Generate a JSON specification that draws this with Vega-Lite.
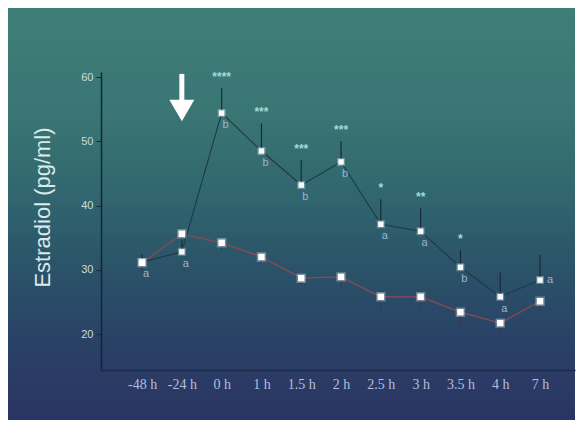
{
  "$schema": "https://vega.github.io/schema/vega-lite/v6.json",
  "width": 567,
  "height": 412,
  "autosize": "none",
  "padding": {"left": 8, "top": 8, "right": 7, "bottom": 3},
  "background": "#ffffff",
  "config": {"view": {"stroke": null}},
  "datasets": {
    "est": [
      {"time": "-48 h", "treat": 31.2, "treatUpper": 32.4, "control": 31.1, "controlLower": 29.6, "letter": "a", "stars": ""},
      {"time": "-24 h", "treat": 32.8, "treatUpper": 34.6, "control": 35.6, "controlLower": 34.0, "letter": "a", "stars": ""},
      {"time": "0 h", "treat": 54.4, "treatUpper": 58.3, "control": 34.2, "controlLower": 33.0, "letter": "b", "stars": "****"},
      {"time": "1 h", "treat": 48.5, "treatUpper": 52.8, "control": 32.0, "controlLower": 30.8, "letter": "b", "stars": "***"},
      {"time": "1.5 h", "treat": 43.2, "treatUpper": 47.1, "control": 28.7, "controlLower": 27.5, "letter": "b", "stars": "***"},
      {"time": "2 h", "treat": 46.8, "treatUpper": 50.0, "control": 28.9, "controlLower": 27.2, "letter": "b", "stars": "***"},
      {"time": "2.5 h", "treat": 37.1, "treatUpper": 41.0, "control": 25.8, "controlLower": 24.0, "letter": "a", "stars": "*"},
      {"time": "3 h", "treat": 36.0, "treatUpper": 39.6, "control": 25.8, "controlLower": 24.2, "letter": "a", "stars": "**"},
      {"time": "3.5 h", "treat": 30.4, "treatUpper": 33.1, "control": 23.4, "controlLower": 21.5, "letter": "b", "stars": "*"},
      {"time": "4 h", "treat": 25.8, "treatUpper": 29.6, "control": 21.7, "controlLower": 20.2, "letter": "a", "stars": ""},
      {"time": "7 h", "treat": 28.4, "treatUpper": 32.3, "control": 25.1, "controlLower": 23.6, "letter": "a", "stars": ""}
    ],
    "arrow": [
      {"time": "-24 h", "shaftTop": 60.5, "shaftBottom": 56.3, "head": 54.8}
    ]
  },
  "encoding": {
    "x": {
      "field": "time",
      "type": "nominal",
      "scale": {
        "type": "point",
        "domain": ["-48 h", "-24 h", "0 h", "1 h", "1.5 h", "2 h", "2.5 h", "3 h", "3.5 h", "4 h", "7 h"],
        "range": [93, 567],
        "padding": 0.955,
        "align": 0.54
      },
      "axis": {
        "title": null,
        "zindex": 1,
        "offset": -50,
        "labelAngle": 0,
        "ticks": false,
        "labelPadding": 7,
        "labelFont": "Liberation Serif",
        "labelFontSize": 14,
        "labelColor": "#b4bedc",
        "domainColor": "#1d2a4c",
        "domainWidth": 1.5
      }
    }
  },
  "layer": [
    {
      "data": {"values": [{}]},
      "mark": {
        "type": "rect",
        "fill": {
          "gradient": "linear",
          "x1": 0, "y1": 0, "x2": 0, "y2": 1,
          "stops": [
            {"offset": 0, "color": "#3f7e78"},
            {"offset": 0.25, "color": "#3a7674"},
            {"offset": 0.45, "color": "#31666f"},
            {"offset": 0.62, "color": "#2b5469"},
            {"offset": 0.8, "color": "#294266"},
            {"offset": 1, "color": "#2b3464"}
          ]
        }
      },
      "encoding": {"x": null}
    },
    {
      "data": {"name": "est"},
      "mark": {"type": "rule", "color": "#1b2a38", "strokeWidth": 1.2},
      "encoding": {
        "y": {
          "field": "treat",
          "type": "quantitative",
          "scale": {"domain": [14.4, 60.8], "range": [362, 64], "nice": false, "zero": false},
          "axis": {
            "title": "Estradiol (pg/ml)",
            "zindex": 1,
            "offset": -93,
            "values": [20, 30, 40, 50, 60],
            "grid": false,
            "tickSize": 5,
            "tickColor": "#1a2a3a",
            "domainColor": "#152535",
            "domainWidth": 1.5,
            "labelFontSize": 11,
            "labelFont": "Liberation Sans",
            "labelColor": "#c8dcdc",
            "labelPadding": 3,
            "titleFont": "Liberation Sans",
            "titleFontSize": 22,
            "titleFontWeight": "normal",
            "titleColor": "#dce9e9",
            "titleBaseline": "middle",
            "titleX": -59,
            "titleY": 199
          }
        },
        "y2": {"field": "treatUpper"}
      }
    },
    {
      "data": {"name": "est"},
      "mark": {"type": "rule", "color": "#4a2c3e", "strokeWidth": 1, "opacity": 0.7},
      "encoding": {
        "y": {"field": "control", "type": "quantitative"},
        "y2": {"field": "controlLower"}
      }
    },
    {
      "data": {"name": "est"},
      "mark": {"type": "line", "color": "#8a4a55", "strokeWidth": 1.3},
      "encoding": {"y": {"field": "control", "type": "quantitative"}}
    },
    {
      "data": {"name": "est"},
      "mark": {"type": "line", "color": "#1d3a48", "strokeWidth": 1.1},
      "encoding": {"y": {"field": "treat", "type": "quantitative"}}
    },
    {
      "data": {"name": "est"},
      "mark": {"type": "point", "shape": "square", "filled": true, "opacity": 1, "size": 30, "fill": "#f6faff", "stroke": "#ffffff", "strokeOpacity": 0.3, "strokeWidth": 2.5},
      "encoding": {"y": {"field": "treat", "type": "quantitative"}}
    },
    {
      "data": {"name": "est"},
      "mark": {"type": "point", "shape": "square", "filled": true, "opacity": 1, "size": 42, "fill": "#ffffff", "stroke": "#ffffff", "strokeOpacity": 0.3, "strokeWidth": 3},
      "encoding": {"y": {"field": "control", "type": "quantitative"}}
    },
    {
      "data": {"name": "est"},
      "transform": [{"filter": "datum.time !== '7 h'"}],
      "mark": {"type": "text", "dx": 4, "dy": 12, "fontSize": 11, "font": "Liberation Sans", "color": "#a0b4c8"},
      "encoding": {
        "y": {"field": "treat", "type": "quantitative"},
        "text": {"field": "letter"}
      }
    },
    {
      "data": {"name": "est"},
      "transform": [{"filter": "datum.time === '7 h'"}],
      "mark": {"type": "text", "dx": 10, "dy": 0, "fontSize": 11, "font": "Liberation Sans", "color": "#a0b4c8"},
      "encoding": {
        "y": {"field": "treat", "type": "quantitative"},
        "text": {"field": "letter"}
      }
    },
    {
      "data": {"name": "est"},
      "mark": {"type": "text", "dy": -11, "fontSize": 12, "font": "Liberation Sans", "fontWeight": "bold", "color": "#9fdada"},
      "encoding": {
        "y": {"field": "treatUpper", "type": "quantitative"},
        "text": {"field": "stars"}
      }
    },
    {
      "data": {"name": "arrow"},
      "mark": {"type": "rule", "color": "#ffffff", "strokeWidth": 5},
      "encoding": {
        "y": {"field": "shaftTop", "type": "quantitative"},
        "y2": {"field": "shaftBottom"}
      }
    },
    {
      "data": {"name": "arrow"},
      "mark": {"type": "point", "shape": "triangle-down", "filled": true, "size": 625, "fill": "#ffffff", "opacity": 1},
      "encoding": {"y": {"field": "head", "type": "quantitative"}}
    }
  ]
}
